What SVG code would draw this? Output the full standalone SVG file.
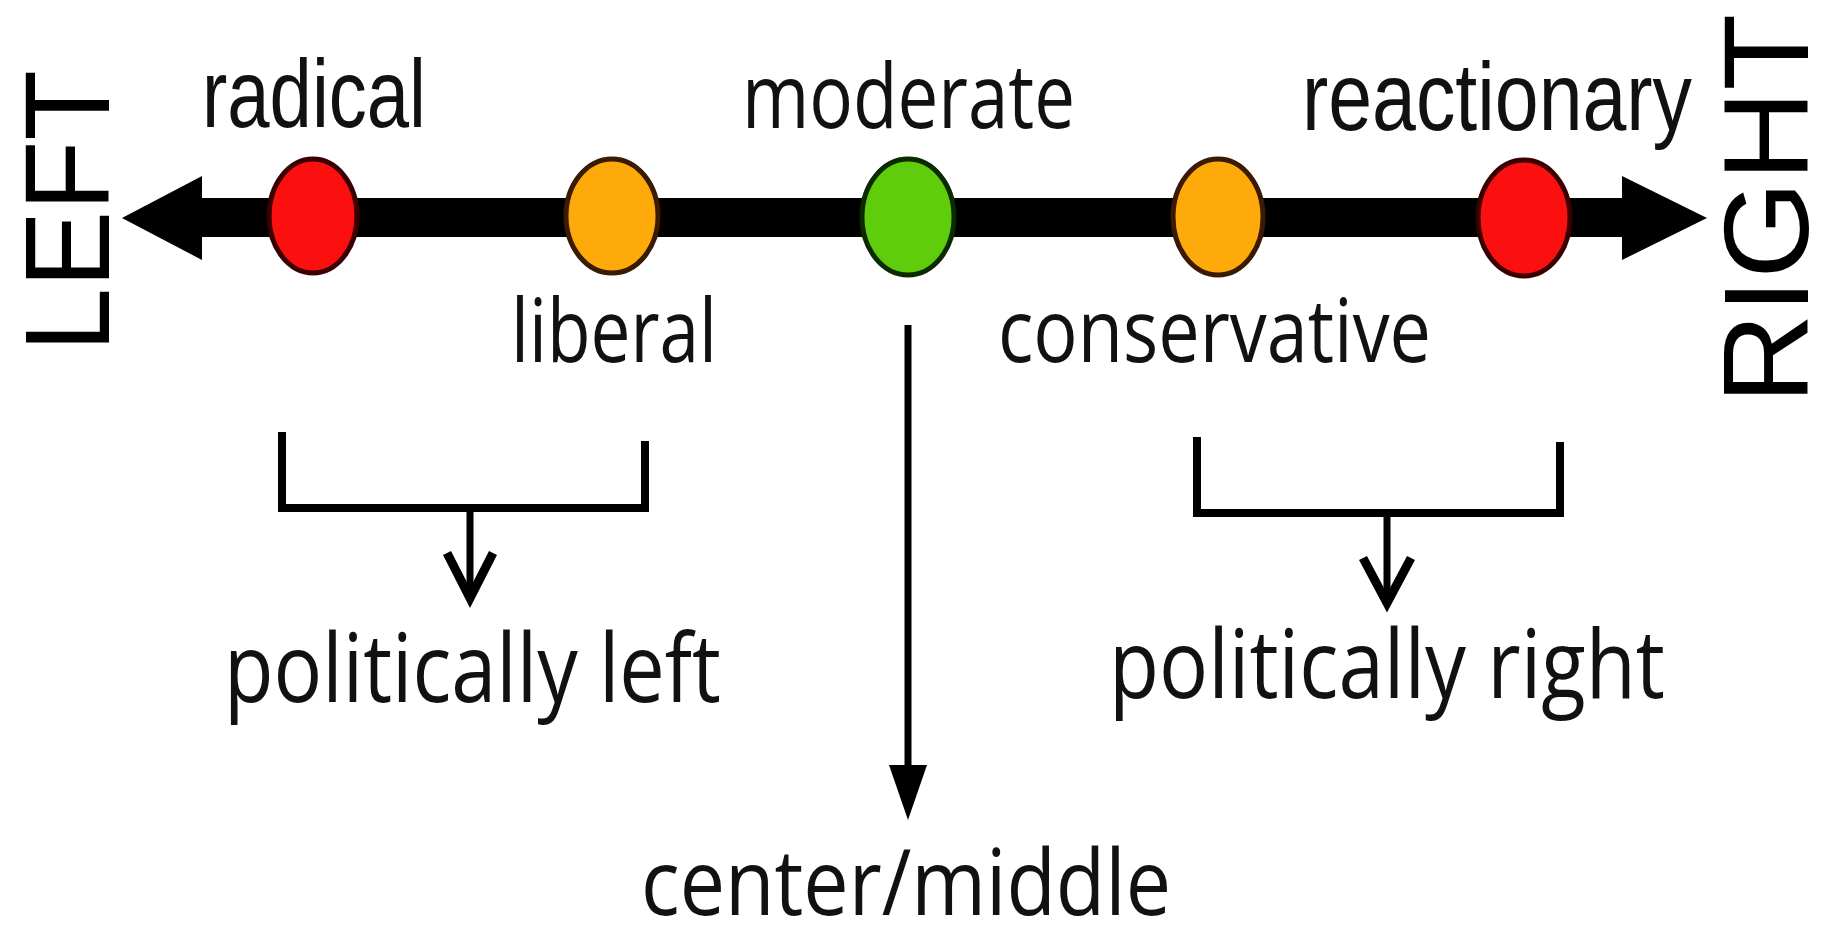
<svg xmlns="http://www.w3.org/2000/svg" width="1834" height="940" viewBox="0 0 1834 940">
<style>
.lbl{font-family:"Open Sans","DejaVu Sans",sans-serif;fill:#111;}
.nar{font-family:"Liberation Sans Narrow","Liberation Sans",Arial,sans-serif;fill:#111;}
.big{font-family:"Liberation Sans",Arial,sans-serif;font-size:120px;fill:#000;}
.ln{stroke:#000;fill:none;}
.head{fill:#000;}
.dot{stroke-width:5;}
.red{fill:#fc0f0f;stroke:#3a0000;}
.org{fill:#fdaa0a;stroke:#3a1a00;}
.grn{fill:#5fcc0c;stroke:#0b2a00;}
</style>
<rect width="1834" height="940" fill="#fff"/>
<g id="connectors">
  <rect x="195" y="198" width="1435" height="39" fill="#000"/>
  <polygon class="head" points="122,218 202,176 202,260"/>
  <polygon class="head" points="1707,218 1622,176 1622,260"/>
  <line class="ln" x1="908" y1="325" x2="908" y2="775" stroke-width="7"/>
  <polygon class="head" points="889,765 927,765 908,820"/>
  <polyline class="ln" points="282,432 282,508 645,508 645,441" stroke-width="8"/>
  <line class="ln" x1="470" y1="508" x2="470" y2="596" stroke-width="7"/>
  <polyline class="ln" points="447,553 470,598 493,553" stroke-width="9"/>
  <polyline class="ln" points="1197,437 1197,513 1560,513 1560,442" stroke-width="8"/>
  <line class="ln" x1="1387" y1="513" x2="1387" y2="601" stroke-width="7"/>
  <polyline class="ln" points="1363,558 1387,603 1411,558" stroke-width="9"/>
</g>
<g id="left-label"><text class="big" transform="translate(109,352) rotate(-90)" textLength="282" lengthAdjust="spacingAndGlyphs">LEFT</text></g>
<g id="right-label"><text class="big" transform="translate(1808,404) rotate(-90)" textLength="390" lengthAdjust="spacingAndGlyphs">RIGHT</text></g>
<g id="radical">
  <ellipse class="dot red" cx="313" cy="216" rx="44" ry="57"/>
  <text class="nar" x="202" y="127" font-size="96" textLength="224" lengthAdjust="spacingAndGlyphs">radical</text>
</g>
<g id="liberal">
  <ellipse class="dot org" cx="612" cy="216" rx="46" ry="57"/>
  <text class="lbl" x="511" y="362" font-size="88" textLength="206" lengthAdjust="spacingAndGlyphs">liberal</text>
</g>
<g id="moderate">
  <ellipse class="dot grn" cx="908" cy="217" rx="46" ry="58"/>
  <text class="lbl" x="742" y="128" font-size="90" textLength="333" lengthAdjust="spacingAndGlyphs">moderate</text>
</g>
<g id="conservative">
  <ellipse class="dot org" cx="1218" cy="217" rx="45" ry="58"/>
  <text class="lbl" x="998" y="362" font-size="88" textLength="433" lengthAdjust="spacingAndGlyphs">conservative</text>
</g>
<g id="reactionary">
  <ellipse class="dot red" cx="1524" cy="218" rx="46" ry="58"/>
  <text class="nar" x="1302" y="130" font-size="96" textLength="390" lengthAdjust="spacingAndGlyphs">reactionary</text>
</g>
<g id="politically-left">
  <text class="lbl" x="224" y="702" font-size="96" textLength="497" lengthAdjust="spacingAndGlyphs">politically left</text>
</g>
<g id="politically-right">
  <text class="lbl" x="1109" y="698" font-size="96" textLength="556" lengthAdjust="spacingAndGlyphs">politically right</text>
</g>
<g id="center-middle">
  <text class="lbl" x="641" y="915" font-size="92" textLength="530" lengthAdjust="spacingAndGlyphs">center/middle</text>
</g>
</svg>
